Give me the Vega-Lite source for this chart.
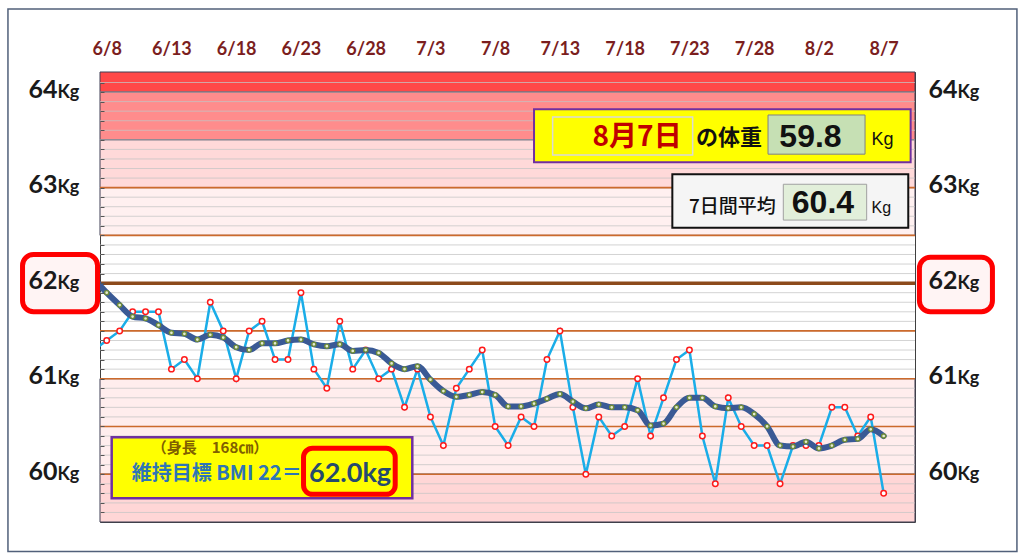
{
  "$schema": "https://vega.github.io/schema/vega-lite/v6.json",
  "width": 815,
  "height": 450,
  "autosize": {"type": "none"},
  "padding": {"left": 100, "top": 72, "right": 109, "bottom": 37},
  "background": "white",
  "config": {"view": {"stroke": "#404040", "strokeWidth": 1}},
  "resolve": {"axis": {"y": "independent"}},
  "datasets": {
    "w": [
      {"date": "2023/06/07", "weight": 61.3, "avg": 62.05},
      {"date": "2023/06/08", "weight": 61.4, "avg": 61.90},
      {"date": "2023/06/09", "weight": 61.5, "avg": 61.77},
      {"date": "2023/06/10", "weight": 61.7, "avg": 61.65},
      {"date": "2023/06/11", "weight": 61.7, "avg": 61.63},
      {"date": "2023/06/12", "weight": 61.7, "avg": 61.56},
      {"date": "2023/06/13", "weight": 61.1, "avg": 61.48},
      {"date": "2023/06/14", "weight": 61.2, "avg": 61.47},
      {"date": "2023/06/15", "weight": 61.0, "avg": 61.41},
      {"date": "2023/06/16", "weight": 61.8, "avg": 61.46},
      {"date": "2023/06/17", "weight": 61.5, "avg": 61.43},
      {"date": "2023/06/18", "weight": 61.0, "avg": 61.33},
      {"date": "2023/06/19", "weight": 61.5, "avg": 61.30},
      {"date": "2023/06/20", "weight": 61.6, "avg": 61.37},
      {"date": "2023/06/21", "weight": 61.2, "avg": 61.37},
      {"date": "2023/06/22", "weight": 61.2, "avg": 61.40},
      {"date": "2023/06/23", "weight": 61.9, "avg": 61.41},
      {"date": "2023/06/24", "weight": 61.1, "avg": 61.36},
      {"date": "2023/06/25", "weight": 60.9, "avg": 61.34},
      {"date": "2023/06/26", "weight": 61.6, "avg": 61.36},
      {"date": "2023/06/27", "weight": 61.1, "avg": 61.29},
      {"date": "2023/06/28", "weight": 61.3, "avg": 61.30},
      {"date": "2023/06/29", "weight": 61.0, "avg": 61.27},
      {"date": "2023/06/30", "weight": 61.1, "avg": 61.16},
      {"date": "2023/07/01", "weight": 60.7, "avg": 61.10},
      {"date": "2023/07/02", "weight": 61.1, "avg": 61.13},
      {"date": "2023/07/03", "weight": 60.6, "avg": 60.99},
      {"date": "2023/07/04", "weight": 60.3, "avg": 60.87},
      {"date": "2023/07/05", "weight": 60.9, "avg": 60.81},
      {"date": "2023/07/06", "weight": 61.1, "avg": 60.83},
      {"date": "2023/07/07", "weight": 61.3, "avg": 60.86},
      {"date": "2023/07/08", "weight": 60.5, "avg": 60.83},
      {"date": "2023/07/09", "weight": 60.3, "avg": 60.71},
      {"date": "2023/07/10", "weight": 60.6, "avg": 60.71},
      {"date": "2023/07/11", "weight": 60.5, "avg": 60.74},
      {"date": "2023/07/12", "weight": 61.2, "avg": 60.79},
      {"date": "2023/07/13", "weight": 61.5, "avg": 60.84},
      {"date": "2023/07/14", "weight": 60.7, "avg": 60.76},
      {"date": "2023/07/15", "weight": 60.0, "avg": 60.69},
      {"date": "2023/07/16", "weight": 60.6, "avg": 60.73},
      {"date": "2023/07/17", "weight": 60.4, "avg": 60.70},
      {"date": "2023/07/18", "weight": 60.5, "avg": 60.70},
      {"date": "2023/07/19", "weight": 61.0, "avg": 60.67},
      {"date": "2023/07/20", "weight": 60.4, "avg": 60.51},
      {"date": "2023/07/21", "weight": 60.8, "avg": 60.53},
      {"date": "2023/07/22", "weight": 61.2, "avg": 60.70},
      {"date": "2023/07/23", "weight": 61.3, "avg": 60.80},
      {"date": "2023/07/24", "weight": 60.4, "avg": 60.80},
      {"date": "2023/07/25", "weight": 59.9, "avg": 60.71},
      {"date": "2023/07/26", "weight": 60.8, "avg": 60.69},
      {"date": "2023/07/27", "weight": 60.5, "avg": 60.70},
      {"date": "2023/07/28", "weight": 60.3, "avg": 60.63},
      {"date": "2023/07/29", "weight": 60.3, "avg": 60.50},
      {"date": "2023/07/30", "weight": 59.9, "avg": 60.30},
      {"date": "2023/07/31", "weight": 60.3, "avg": 60.29},
      {"date": "2023/08/01", "weight": 60.3, "avg": 60.34},
      {"date": "2023/08/02", "weight": 60.3, "avg": 60.27},
      {"date": "2023/08/03", "weight": 60.7, "avg": 60.30},
      {"date": "2023/08/04", "weight": 60.7, "avg": 60.36},
      {"date": "2023/08/05", "weight": 60.4, "avg": 60.37},
      {"date": "2023/08/06", "weight": 60.6, "avg": 60.47},
      {"date": "2023/08/07", "weight": 59.8, "avg": 60.40}
    ],
    "kg": [{"kg": 60}, {"kg": 61}, {"kg": 62}, {"kg": 63}, {"kg": 64}],
    "grid": [
      {"kg": 59.6}, {"kg": 59.7}, {"kg": 59.8}, {"kg": 59.9}, {"kg": 60.0},
      {"kg": 60.1}, {"kg": 60.2}, {"kg": 60.3}, {"kg": 60.4}, {"kg": 60.5},
      {"kg": 60.6}, {"kg": 60.7}, {"kg": 60.8}, {"kg": 60.9}, {"kg": 61.0},
      {"kg": 61.1}, {"kg": 61.2}, {"kg": 61.3}, {"kg": 61.4}, {"kg": 61.5},
      {"kg": 61.6}, {"kg": 61.7}, {"kg": 61.8}, {"kg": 61.9}, {"kg": 62.0},
      {"kg": 62.1}, {"kg": 62.2}, {"kg": 62.3}, {"kg": 62.4}, {"kg": 62.5},
      {"kg": 62.6}, {"kg": 62.7}, {"kg": 62.8}, {"kg": 62.9}, {"kg": 63.0},
      {"kg": 63.1}, {"kg": 63.2}, {"kg": 63.3}, {"kg": 63.4}, {"kg": 63.5},
      {"kg": 63.6}, {"kg": 63.7}, {"kg": 63.8}, {"kg": 63.9}, {"kg": 64.0},
      {"kg": 64.1}
    ],
    "major": [{"kg": 60.0}, {"kg": 60.5}, {"kg": 61.0}, {"kg": 61.5}, {"kg": 62.5}, {"kg": 63.0}],
    "bands": [
      {"lo": 64.0, "hi": 64.21, "zone": "a"},
      {"lo": 63.5, "hi": 64.0, "zone": "b"},
      {"lo": 63.0, "hi": 63.5, "zone": "c"},
      {"lo": 62.5, "hi": 63.0, "zone": "d"},
      {"lo": 60.0, "hi": 61.0, "zone": "e"},
      {"lo": 59.5, "hi": 60.0, "zone": "f"}
    ]
  },
  "layer": [
    {
      "data": {"name": "w"},
      "mark": {"type": "point", "opacity": 0},
      "encoding": {
        "x": {"field": "date", "type": "temporal",
          "scale": {"domain": [{"year": 2023, "month": 6, "date": 7, "hours": 11, "minutes": 35}, {"year": 2023, "month": 8, "date": 9, "hours": 10, "minutes": 5}], "nice": false},
          "axis": {"orient": "top", "title": null, "format": "%-m/%-d", "ticks": false, "domain": false, "grid": false,
            "labelFont": "Lato", "labelFontWeight": "bold", "labelFontSize": 18, "labelColor": "#7B1E1E",
            "labelPadding": 18, "labelBaseline": "alphabetic", "labelFlush": false, "labelOverlap": false, "zindex": 2,
            "values": [
              {"year": 2023, "month": 6, "date": 8}, {"year": 2023, "month": 6, "date": 13}, {"year": 2023, "month": 6, "date": 18},
              {"year": 2023, "month": 6, "date": 23}, {"year": 2023, "month": 6, "date": 28}, {"year": 2023, "month": 7, "date": 3},
              {"year": 2023, "month": 7, "date": 8}, {"year": 2023, "month": 7, "date": 13}, {"year": 2023, "month": 7, "date": 18},
              {"year": 2023, "month": 7, "date": 23}, {"year": 2023, "month": 7, "date": 28}, {"year": 2023, "month": 8, "date": 2},
              {"year": 2023, "month": 8, "date": 7}
            ]}},
        "y": {"field": "weight", "type": "quantitative", "axis": null, "scale": {"domain": [59.5, 64.21], "nice": false, "zero": false}}
      }
    },
    {
      "data": {"values": [{}]},
      "mark": {"type": "rect", "fill": "white", "fillOpacity": 0, "stroke": "#51607a", "strokeWidth": 1.5},
      "encoding": {
        "x": {"datum": {"year": 2023, "month": 5, "date": 31, "hours": 9}, "type": "temporal"},
        "x2": {"datum": {"year": 2023, "month": 8, "date": 17, "hours": 7}},
        "y": {"datum": 64.87, "type": "quantitative", "axis": null},
        "y2": {"datum": 59.19}
      }
    },
    {
      "data": {"name": "bands"},
      "mark": {"type": "rect", "stroke": "#3f3f55", "strokeWidth": 1},
      "encoding": {
        "y": {"field": "hi", "type": "quantitative", "axis": null},
        "y2": {"field": "lo"},
        "color": {"field": "zone", "type": "nominal", "legend": null,
          "scale": {"domain": ["a", "b", "c", "d", "e", "f"], "range": ["#FF4848", "#FF8C8C", "#FFD9D9", "#FFF0F0", "#FFEDED", "#FFD6D6"]}}
      }
    },
    {
      "data": {"name": "grid"},
      "mark": {"type": "rule", "color": "#c4c4c4", "strokeWidth": 1, "opacity": 0.75},
      "encoding": {"y": {"field": "kg", "type": "quantitative", "axis": null}}
    },
    {
      "data": {"name": "major"},
      "mark": {"type": "rule", "color": "#CC6A2C", "strokeWidth": 1.6},
      "encoding": {"y": {"field": "kg", "type": "quantitative", "axis": null}}
    },
    {
      "data": {"values": [{}]},
      "mark": {"type": "rule", "color": "#8C4A1C", "strokeWidth": 3.5},
      "encoding": {"y": {"datum": 62, "type": "quantitative", "axis": null}}
    },
    {
      "data": {"name": "w"},
      "mark": {"type": "line", "color": "#1AADE8", "strokeWidth": 2.5, "clip": true},
      "encoding": {
        "x": {"field": "date", "type": "temporal"},
        "y": {"field": "weight", "type": "quantitative", "axis": null}
      }
    },
    {
      "data": {"name": "w"},
      "mark": {"type": "point", "shape": "circle", "filled": true, "fill": "white", "stroke": "#FF1A1A", "strokeWidth": 1.5, "size": 30, "opacity": 1, "clip": true},
      "encoding": {
        "x": {"field": "date", "type": "temporal"},
        "y": {"field": "weight", "type": "quantitative", "axis": null}
      }
    },
    {
      "data": {"name": "w"},
      "mark": {"type": "line", "color": "#3A5A95", "strokeWidth": 6, "interpolate": "monotone", "strokeCap": "round", "clip": true},
      "encoding": {
        "x": {"field": "date", "type": "temporal"},
        "y": {"field": "avg", "type": "quantitative", "axis": null}
      }
    },
    {
      "data": {"name": "w"},
      "mark": {"type": "point", "shape": "circle", "filled": true, "fill": "#E4EBD2", "stroke": "#6F8C38", "strokeWidth": 1.4, "size": 17, "opacity": 1, "clip": true},
      "encoding": {
        "x": {"field": "date", "type": "temporal"},
        "y": {"field": "avg", "type": "quantitative", "axis": null}
      }
    },
    {
      "data": {"values": [{}]},
      "mark": {"type": "rect", "fill": "#FFFF00", "stroke": "#7030A0", "strokeWidth": 2},
      "encoding": {
        "x": {"datum": {"year": 2023, "month": 7, "date": 11}, "type": "temporal"},
        "x2": {"datum": {"year": 2023, "month": 8, "date": 9, "hours": 2}},
        "y": {"datum": 63.82, "type": "quantitative", "axis": null},
        "y2": {"datum": 63.265}
      }
    },
    {
      "data": {"values": [{}]},
      "mark": {"type": "rect", "fill": "#FFFF00", "stroke": "#D9D9D9", "strokeWidth": 1.5},
      "encoding": {
        "x": {"datum": {"year": 2023, "month": 7, "date": 12, "hours": 10, "minutes": 30}, "type": "temporal"},
        "x2": {"datum": {"year": 2023, "month": 7, "date": 23, "hours": 6}},
        "y": {"datum": 63.74, "type": "quantitative", "axis": null},
        "y2": {"datum": 63.34}
      }
    },
    {
      "data": {"values": [{}]},
      "mark": {"type": "rect", "fill": "#C6E0B4", "stroke": "#808080", "strokeWidth": 1},
      "encoding": {
        "x": {"datum": {"year": 2023, "month": 7, "date": 29, "hours": 1, "minutes": 40}, "type": "temporal"},
        "x2": {"datum": {"year": 2023, "month": 8, "date": 5, "hours": 13, "minutes": 30}},
        "y": {"datum": 63.76, "type": "quantitative", "axis": null},
        "y2": {"datum": 63.35}
      }
    },
    {
      "data": {"values": [{}]},
      "mark": {"type": "rect", "fill": "#F5F5F5", "stroke": "#111111", "strokeWidth": 2},
      "encoding": {
        "x": {"datum": {"year": 2023, "month": 7, "date": 21, "hours": 16, "minutes": 20}, "type": "temporal"},
        "x2": {"datum": {"year": 2023, "month": 8, "date": 8, "hours": 21, "minutes": 36}},
        "y": {"datum": 63.139, "type": "quantitative", "axis": null},
        "y2": {"datum": 62.58}
      }
    },
    {
      "data": {"values": [{}]},
      "mark": {"type": "rect", "fill": "#E2EFDA", "stroke": "#A0A0A0", "strokeWidth": 1},
      "encoding": {
        "x": {"datum": {"year": 2023, "month": 7, "date": 30, "hours": 6}, "type": "temporal"},
        "x2": {"datum": {"year": 2023, "month": 8, "date": 5, "hours": 16, "minutes": 30}},
        "y": {"datum": 63.035, "type": "quantitative", "axis": null},
        "y2": {"datum": 62.66}
      }
    },
    {
      "data": {"values": [{}]},
      "mark": {"type": "rect", "fill": "#FFFF00", "stroke": "#7030A0", "strokeWidth": 2.5},
      "encoding": {
        "x": {"datum": {"year": 2023, "month": 6, "date": 8, "hours": 9, "minutes": 15}, "type": "temporal"},
        "x2": {"datum": {"year": 2023, "month": 7, "date": 1, "hours": 14, "minutes": 24}},
        "y": {"datum": 60.386, "type": "quantitative", "axis": null},
        "y2": {"datum": 59.748}
      }
    },
    {
      "data": {"values": [{}]},
      "mark": {"type": "rect", "fill": "#FFFF00", "stroke": "#FF0000", "strokeWidth": 5, "cornerRadius": 9},
      "encoding": {
        "x": {"datum": {"year": 2023, "month": 6, "date": 23, "hours": 4, "minutes": 48}, "type": "temporal"},
        "x2": {"datum": {"year": 2023, "month": 6, "date": 30, "hours": 6, "minutes": 43}},
        "y": {"datum": 60.272, "type": "quantitative", "axis": null},
        "y2": {"datum": 59.79}
      }
    },
    {
      "data": {"values": [{}]},
      "mark": {"type": "rect", "fill": "#FFF4F4", "stroke": "#FF0000", "strokeWidth": 5, "cornerRadius": 11},
      "encoding": {
        "x": {"datum": {"year": 2023, "month": 6, "date": 1, "hours": 12}, "type": "temporal"},
        "x2": {"datum": {"year": 2023, "month": 6, "date": 7, "hours": 7}},
        "y": {"datum": 62.30, "type": "quantitative", "axis": null},
        "y2": {"datum": 61.70}
      }
    },
    {
      "data": {"values": [{}]},
      "mark": {"type": "rect", "fill": "#FFF4F4", "stroke": "#FF0000", "strokeWidth": 5, "cornerRadius": 11},
      "encoding": {
        "x": {"datum": {"year": 2023, "month": 8, "date": 9, "hours": 18, "minutes": 15}, "type": "temporal"},
        "x2": {"datum": {"year": 2023, "month": 8, "date": 15, "hours": 9, "minutes": 36}},
        "y": {"datum": 62.27, "type": "quantitative", "axis": null},
        "y2": {"datum": 61.70}
      }
    },
    {
      "data": {"values": [{}]},
      "mark": {"type": "text", "text": "8月7日", "font": "Noto Sans CJK JP", "fontSize": 28, "fontWeight": "bold", "color": "#C00000", "align": "right", "baseline": "middle"},
      "encoding": {
        "x": {"datum": {"year": 2023, "month": 7, "date": 22, "hours": 9, "minutes": 36}, "type": "temporal"},
        "y": {"datum": 63.52, "type": "quantitative", "axis": null}
      }
    },
    {
      "data": {"values": [{}]},
      "mark": {"type": "text", "text": "の体重", "font": "Noto Sans CJK JP", "fontSize": 22, "fontWeight": "bold", "color": "#111111", "align": "left", "baseline": "middle"},
      "encoding": {
        "x": {"datum": {"year": 2023, "month": 7, "date": 23, "hours": 12}, "type": "temporal"},
        "y": {"datum": 63.52, "type": "quantitative", "axis": null}
      }
    },
    {
      "data": {"values": [{}]},
      "mark": {"type": "text", "text": "59.8", "font": "Liberation Sans", "fontSize": 32, "fontWeight": "bold", "color": "#111111", "align": "center", "baseline": "middle"},
      "encoding": {
        "x": {"datum": {"year": 2023, "month": 8, "date": 1, "hours": 8, "minutes": 24}, "type": "temporal"},
        "y": {"datum": 63.53, "type": "quantitative", "axis": null}
      }
    },
    {
      "data": {"values": [{}]},
      "mark": {"type": "text", "text": "Kg", "font": "Liberation Sans", "fontSize": 18, "color": "#111111", "align": "left", "baseline": "middle"},
      "encoding": {
        "x": {"datum": {"year": 2023, "month": 8, "date": 6, "hours": 1, "minutes": 40}, "type": "temporal"},
        "y": {"datum": 63.50, "type": "quantitative", "axis": null}
      }
    },
    {
      "data": {"values": [{}]},
      "mark": {"type": "text", "text": "7日間平均", "font": "Noto Sans CJK JP", "fontSize": 19, "fontWeight": 500, "color": "#111111", "align": "left", "baseline": "middle"},
      "encoding": {
        "x": {"datum": {"year": 2023, "month": 7, "date": 22, "hours": 23, "minutes": 15}, "type": "temporal"},
        "y": {"datum": 62.80, "type": "quantitative", "axis": null}
      }
    },
    {
      "data": {"values": [{}]},
      "mark": {"type": "text", "text": "60.4", "font": "Liberation Sans", "fontSize": 32, "fontWeight": "bold", "color": "#111111", "align": "center", "baseline": "middle"},
      "encoding": {
        "x": {"datum": {"year": 2023, "month": 8, "date": 2, "hours": 7, "minutes": 30}, "type": "temporal"},
        "y": {"datum": 62.835, "type": "quantitative", "axis": null}
      }
    },
    {
      "data": {"values": [{}]},
      "mark": {"type": "text", "text": "Kg", "font": "Liberation Sans", "fontSize": 16, "color": "#111111", "align": "left", "baseline": "middle"},
      "encoding": {
        "x": {"datum": {"year": 2023, "month": 8, "date": 6, "hours": 1, "minutes": 40}, "type": "temporal"},
        "y": {"datum": 62.79, "type": "quantitative", "axis": null}
      }
    },
    {
      "data": {"values": [{}]},
      "mark": {"type": "text", "text": "（身長　168㎝）", "font": "Noto Sans CJK JP", "fontSize": 15, "fontWeight": "bold", "color": "#7F6000", "align": "center", "baseline": "middle"},
      "encoding": {
        "x": {"datum": {"year": 2023, "month": 6, "date": 15, "hours": 23, "minutes": 30}, "type": "temporal"},
        "y": {"datum": 60.27, "type": "quantitative", "axis": null}
      }
    },
    {
      "data": {"values": [{}]},
      "mark": {"type": "text", "text": "維持目標 BMI 22＝", "font": "Noto Sans CJK JP", "fontSize": 20, "fontWeight": "bold", "color": "#2E75B6", "align": "left", "baseline": "middle"},
      "encoding": {
        "x": {"datum": {"year": 2023, "month": 6, "date": 9, "hours": 22, "minutes": 20}, "type": "temporal"},
        "y": {"datum": 60.0, "type": "quantitative", "axis": null}
      }
    },
    {
      "data": {"values": [{}]},
      "mark": {"type": "text", "text": "62.0kg", "font": "Lato", "fontSize": 27, "fontWeight": "bold", "color": "#264A6E", "align": "center", "baseline": "middle"},
      "encoding": {
        "x": {"datum": {"year": 2023, "month": 6, "date": 26, "hours": 19}, "type": "temporal"},
        "y": {"datum": 60.0, "type": "quantitative", "axis": null}
      }
    },
    {
      "data": {"name": "grid"},
      "mark": {"type": "point", "opacity": 0},
      "encoding": {"y": {"field": "kg", "type": "quantitative",
        "axis": {"orient": "left", "values": [59.6, 59.7, 59.8, 59.9, 60.0, 60.1, 60.2, 60.3, 60.4, 60.5, 60.6, 60.7, 60.8, 60.9, 61.0, 61.1, 61.2, 61.3, 61.4, 61.5, 61.6, 61.7, 61.8, 61.9, 62.0, 62.1, 62.2, 62.3, 62.4, 62.5, 62.6, 62.7, 62.8, 62.9, 63.0, 63.1, 63.2, 63.3, 63.4, 63.5, 63.6, 63.7, 63.8, 63.9, 64.0, 64.1],
          "title": null, "labels": false, "ticks": true, "tickSize": -4, "tickColor": "#555555", "tickWidth": 1, "domain": false, "grid": false, "zindex": 2}}}
    },
    {
      "data": {"name": "kg"},
      "mark": {"type": "point", "opacity": 0},
      "encoding": {"y": {"field": "kg", "type": "quantitative",
        "axis": {"orient": "left", "values": [60, 61, 62, 63, 64], "title": null, "ticks": false, "tickSize": 0, "domain": false, "grid": false,
          "labelFont": "Lato", "labelFontWeight": "bold", "labelFontSize": 25, "labelColor": "#1a1a1a",
          "labelPadding": 43, "labelAlign": "right", "labelBaseline": "alphabetic", "labelOffset": 5, "labelOverlap": false, "zindex": 2}}}
    },
    {
      "data": {"name": "kg"},
      "mark": {"type": "point", "opacity": 0},
      "encoding": {"y": {"field": "kg", "type": "quantitative",
        "axis": {"orient": "left", "values": [60, 61, 62, 63, 64], "title": null, "ticks": false, "tickSize": 0, "domain": false, "grid": false,
          "labelExpr": "'Kg'", "labelFont": "Lato", "labelFontWeight": "bold", "labelFontSize": 18, "labelColor": "#1a1a1a",
          "labelPadding": 43, "labelAlign": "left", "labelBaseline": "alphabetic", "labelOffset": 5, "labelOverlap": false, "zindex": 2}}}
    },
    {
      "data": {"name": "kg"},
      "mark": {"type": "point", "opacity": 0},
      "encoding": {"y": {"field": "kg", "type": "quantitative",
        "axis": {"orient": "right", "values": [60, 61, 62, 63, 64], "title": null, "ticks": false, "tickSize": 0, "domain": false, "grid": false,
          "labelFont": "Lato", "labelFontWeight": "bold", "labelFontSize": 25, "labelColor": "#1a1a1a",
          "labelPadding": 13, "labelAlign": "left", "labelBaseline": "alphabetic", "labelOffset": 5, "labelOverlap": false, "zindex": 2}}}
    },
    {
      "data": {"name": "kg"},
      "mark": {"type": "point", "opacity": 0},
      "encoding": {"y": {"field": "kg", "type": "quantitative",
        "axis": {"orient": "right", "values": [60, 61, 62, 63, 64], "title": null, "ticks": false, "tickSize": 0, "domain": false, "grid": false,
          "labelExpr": "'Kg'", "labelFont": "Lato", "labelFontWeight": "bold", "labelFontSize": 18, "labelColor": "#1a1a1a",
          "labelPadding": 42, "labelAlign": "left", "labelBaseline": "alphabetic", "labelOffset": 5, "labelOverlap": false, "zindex": 2}}}
    }
  ]
}
